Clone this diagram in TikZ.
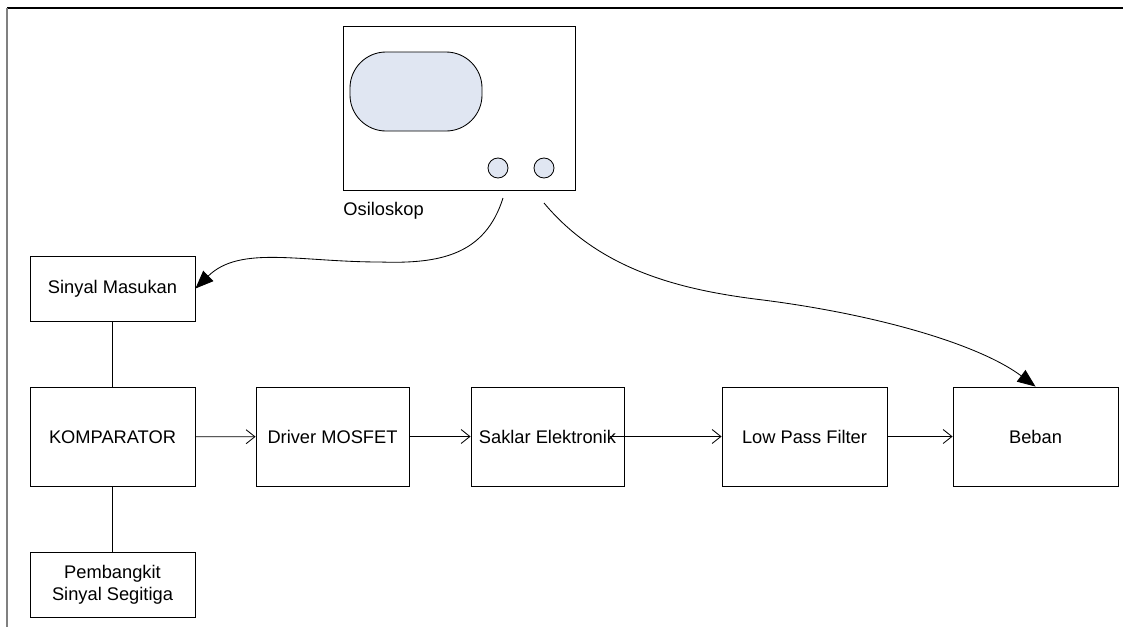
\documentclass[tikz,border=0pt]{standalone}
\usepackage{fontspec}
\setmainfont{Liberation Sans}
\usetikzlibrary{arrows.meta}
\definecolor{screenblue}{HTML}{E0E6F2}
\begin{document}
\begin{tikzpicture}[x=0.025cm,y=-0.025cm,line width=0.6pt,
    font=\fontsize{13}{15.5}\selectfont,
    box/.style={draw, inner sep=0pt, align=center, minimum width=4.125cm, minimum height=2.475cm},
    smallbox/.style={box, minimum height=1.625cm},
    narrowbox/.style={box, minimum width=3.825cm},
    flow/.style={-{Straight Barb[length=2.2mm,width=3.5mm]}},
    probe/.style={-{Triangle[length=4.5mm,width=3.6mm]}}]
  \useasboundingbox (0,0) rectangle (1123,627);
  % frame
  \draw[line width=0.8pt] (7,8) -- (1123,8);
  \draw[gray, line width=1.2pt] (7,8) -- (7,627);
  % oscilloscope
  \draw (343,26) rectangle (575,190);
  \draw[fill=screenblue, rounded corners=0.9cm] (350,52) rectangle (482,131);
  \draw[fill=screenblue] (498,168) circle (10) (544,168) circle (10);
  \node[anchor=west, inner sep=0pt] (osc) at (343,211) {Osiloskop};
  \coordinate (probe1) at (503,198);
  \coordinate (probe2) at (544,203);
  % blocks
  \draw
    (112.5,288.5) node[smallbox] (sinyal){Sinyal Masukan}
    (112.5,437) node[box] (komp){KOMPARATOR}
    (112.5,584.5) node[smallbox] (segitiga){Pembangkit\\Sinyal Segitiga}
    (332.5,436.5) node[narrowbox] (driver){Driver MOSFET}
    (547.5,436.5) node[narrowbox] (saklar){Saklar Elektronik}
    (804.5,436.5) node[box] (lpf){Low Pass Filter}
    (1035.5,436.5) node[box] (beban){Beban};
  \draw (sinyal) to (komp);
  \draw (komp) to (segitiga);
  \begin{scope}[flow]
    \draw (komp) to (driver);
    \draw (driver) to (saklar);
    \draw ([xshift=-0.35cm]saklar.east) to (lpf);
    \draw (lpf) to (beban);
  \end{scope}
  \begin{scope}[probe]
    \draw (probe1) .. controls (485,255) and (440,264) .. (380,262)
      .. controls (300,262) and (240,245) .. (sinyal.east);
    \draw (probe2) .. controls (600,270) and (680,290) .. (763,300)
      .. controls (880,315) and (980,345) .. (beban.north);
  \end{scope}
\end{tikzpicture}
\end{document}
